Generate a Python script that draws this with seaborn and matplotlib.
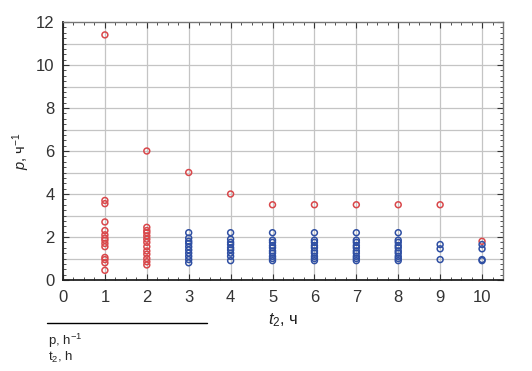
import numpy as np
import pandas as pd
import matplotlib
matplotlib.use("Agg")
import matplotlib.pyplot as plt
from matplotlib.lines import Line2D
from matplotlib.ticker import MultipleLocator
import seaborn as sns

# ---- data ----
red_t = [1]*14 + [2]*13 + [3, 4, 5, 6, 7, 8, 9, 10]
red_p = [11.4, 3.7, 3.55, 2.7, 2.3, 2.1, 1.95, 1.85, 1.7, 1.55, 1.05, 0.95, 0.8, 0.45,
         6.0, 2.45, 2.3, 2.2, 2.05, 1.9, 1.75, 1.55, 1.35, 1.2, 1.0, 0.85, 0.7,
         5.0, 4.0, 3.5, 3.5, 3.5, 3.5, 3.5, 1.8]

col3 = [2.2, 1.95, 1.8, 1.7, 1.55, 1.4, 1.25, 1.1, 0.95, 0.8]
col4 = [2.2, 1.9, 1.75, 1.65, 1.5, 1.4, 1.25, 1.1, 0.9]
col5 = [2.2, 1.85, 1.75, 1.6, 1.5, 1.35, 1.25, 1.1, 1.0, 0.9]
col6 = [2.2, 1.85, 1.75, 1.6, 1.5, 1.35, 1.25, 1.1, 1.0, 0.9]
col7 = [2.2, 1.85, 1.75, 1.6, 1.5, 1.35, 1.25, 1.1, 1.0, 0.9]
col8 = [2.2, 1.85, 1.75, 1.6, 1.5, 1.35, 1.25, 1.1, 1.0, 0.9]
col9 = [1.65, 1.45, 0.95]
col10 = [1.65, 1.45, 0.95, 0.9]
blue_cols = {3: col3, 4: col4, 5: col5, 6: col6, 7: col7, 8: col8, 9: col9, 10: col10}
blue_t = [t for t, v in blue_cols.items() for _ in v]
blue_p = [x for v in blue_cols.values() for x in v]

x_ticks = list(range(0, 11))
y_ticks = list(range(0, 13, 2))

sns.set_theme(style="white")
plt.rcParams['font.family'] = ['Liberation Sans', 'DejaVu Sans']
plt.rcParams['mathtext.fontset'] = 'custom'
plt.rcParams['mathtext.rm'] = 'Liberation Sans'
plt.rcParams['mathtext.it'] = 'Liberation Sans:italic'

fig = plt.figure(figsize=(5.32, 3.71), dpi=100)
ax = fig.add_axes([63/532, 1-280/371, 440/532, 258/371])

red = '#d9474a'
blue = '#2f4fa3'
sns.scatterplot(x=red_t, y=red_p, ax=ax, marker='o', s=18, facecolor='none',
                edgecolor=red, linewidth=1.1, zorder=3)
sns.scatterplot(x=blue_t, y=blue_p, ax=ax, marker='o', s=18, facecolor='none',
                edgecolor=blue, linewidth=1.1, zorder=4)

ax.set_xlim(0, 10.5)
ax.set_ylim(0, 12)
ax.set_xticks(x_ticks)
ax.set_yticks(y_ticks)
ax.xaxis.set_minor_locator(MultipleLocator(0.25))
ax.yaxis.set_minor_locator(MultipleLocator(0.25))
ax.grid(True, which='major', axis='x', color='#c4c4c4', lw=0.9)
for yv in range(1, 12):
    ax.axhline(yv, color='#c4c4c4', lw=0.9, zorder=0)
ax.tick_params(which='both', direction='in', top=True, right=True, bottom=True, left=True,
               labelsize=12, colors='#333333')
ax.tick_params(which='major', length=4, width=0.8)
ax.tick_params(which='minor', length=2, width=0.6)
ax.tick_params(axis='x', pad=7)
ax.tick_params(axis='y', pad=6)
for s in ['left', 'bottom']:
    ax.spines[s].set_color('#222222'); ax.spines[s].set_linewidth(1.3)
for s in ['top', 'right']:
    ax.spines[s].set_color('#777777'); ax.spines[s].set_linewidth(1.0)

ax.set_xlabel(r'$t_2$, ч', fontsize=12, color='#222222', labelpad=5)
ax.set_ylabel(r'$p$, ч$^{-1}$', fontsize=10.5, color='#222222')
ax.yaxis.set_label_coords(-0.07, 0.5)

fig.add_artist(Line2D([47/532, 207/532], [1-323/371, 1-323/371], color='black', lw=1.0))
fig.text(48/532, 1-341/371, r'p, h$^{\mathregular{-1}}$', fontsize=9.5, va='center', ha='left')
fig.text(48/532, 1-357/371, r't$_{\mathregular{2}}$, h', fontsize=9.5, va='center', ha='left')

fig.savefig('out.png', dpi=100)
